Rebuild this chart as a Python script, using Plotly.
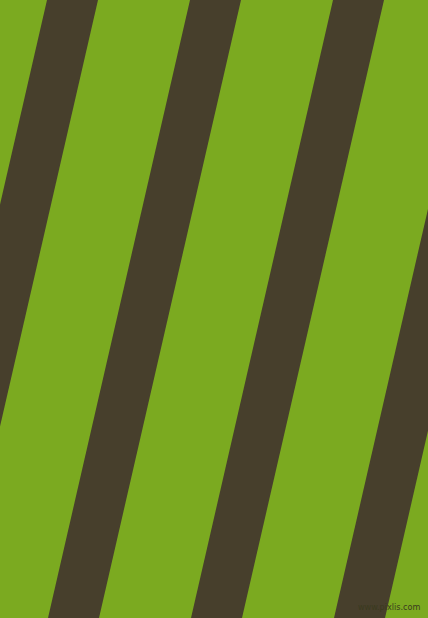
import plotly.graph_objects as go

# Stripe geometry (pixels)
stripe_starts = [-96, 47, 190, 333, 476]  # left edge of each dark band along the top
stripe_width = 51                           # horizontal width of a dark band
stripe_shift = 142                          # horizontal drift from top to bottom
canvas_w, canvas_h = 428, 618

green = "#7baa20"
dark = "#473f2c"

fig = go.Figure()

for s in stripe_starts:
    xs = [s, s + stripe_width, s + stripe_width - stripe_shift, s - stripe_shift, s]
    ys = [0, 0, canvas_h, canvas_h, 0]
    fig.add_trace(
        go.Scatter(
            x=xs,
            y=ys,
            mode="lines",
            fill="toself",
            fillcolor=dark,
            line=dict(width=0, color=dark),
            hoverinfo="skip",
            showlegend=False,
        )
    )

# small watermark, bottom right
fig.add_annotation(
    x=422, y=607, xref="x", yref="y",
    text="www.pixlis.com",
    showarrow=False, xanchor="right", yanchor="middle",
    font=dict(family="DejaVu Sans Condensed", size=9, color="#3a3a1e"),
)

fig.update_layout(
    width=canvas_w,
    height=canvas_h,
    margin=dict(l=0, r=0, t=0, b=0),
    paper_bgcolor=green,
    plot_bgcolor=green,
    xaxis=dict(range=[0, canvas_w], visible=False, fixedrange=True),
    yaxis=dict(range=[canvas_h, 0], visible=False, fixedrange=True),
)

# drop the browser's default body margin so the picture sits flush
fig.write_html(
    "out.html",
    config={"displayModeBar": False},
    post_script="document.body.style.margin='0';document.body.style.overflow='hidden';",
)
